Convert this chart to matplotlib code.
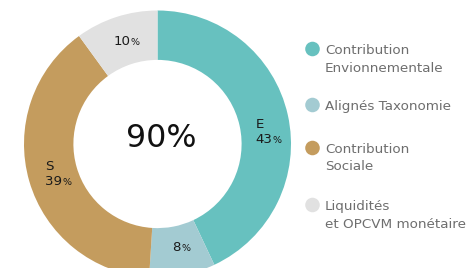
import matplotlib
matplotlib.use("Agg")
import numpy as np
import matplotlib.pyplot as plt
from matplotlib.offsetbox import TextArea, HPacker, VPacker, AnnotationBbox

plt.rcParams['font.family'] = ['DejaVu Sans']

# data
letters = ['E', '', 'S', '']
values = [43, 8, 39, 10]
legend_labels = ['Contribution\nEnvionnementale', 'Alignés Taxonomie',
                 'Contribution\nSociale', 'Liquidités\net OPCVM monétaire']
colors = ['#67c1bf', '#a3cbd2', '#c49c5e', '#e1e1e1']
center_text = '90%'

W, H = 473, 268
fig = plt.figure(figsize=(W / 100, H / 100), dpi=100)

# donut, center (157.5, 144) px from top, outer radius 133.5 px
cx, cy, R = 157.5, 144, 133.5
ax = fig.add_axes([(cx - R) / W, (H - cy - R) / H, 2 * R / W, 2 * R / H])
ax.pie(values, colors=colors, startangle=90, counterclock=False, radius=1,
       wedgeprops=dict(width=0.37, linewidth=0))
ax.set_xlim(-1, 1)
ax.set_ylim(-1, 1)
ax.set_aspect('equal')
ax.axis('off')

ax.text(0.025, 0.04, center_text, ha='center', va='center', fontsize=22.8, color='#111111')

txt = dict(fontsize=9.6, color='#1a1a1a')
pct = dict(fontsize=6.8, color='#1a1a1a')
nudges = [(0.037, -0.09), (0.026, 0.022), (0.04, 0.0), (0.02, -0.01)]
cum = np.cumsum([0] + values)
r_mid = 0.815
for i, v in enumerate(values):
    mid = (cum[i] + v / 2) / sum(values) * 2 * np.pi
    x = r_mid * np.sin(mid) + nudges[i][0]
    y = r_mid * np.cos(mid) + nudges[i][1]
    row = HPacker(children=[TextArea(str(v), textprops=txt), TextArea('%', textprops=pct)],
                  align='baseline', pad=0, sep=0.3)
    if letters[i]:
        box = VPacker(children=[TextArea(letters[i], textprops=txt), row],
                      align='left', pad=0, sep=1.5)
    else:
        box = row
    ax.add_artist(AnnotationBbox(box, (x, y), frameon=False, box_alignment=(0.5, 0.5), pad=0))

# legend
lax = fig.add_axes([0, 0, 1, 1])
lax.set_xlim(0, W)
lax.set_ylim(H, 0)
lax.axis('off')
leg_y = [49, 105, 148, 205]
for i, lab in enumerate(legend_labels):
    lax.scatter(312.5, leg_y[i], s=110, color=colors[i], edgecolor='none')
    for j, line in enumerate(lab.split('\n')):
        lax.text(325, leg_y[i] + 5 + j * 17.5, line, ha='left', va='baseline',
                 fontsize=9.7, color='#6e6e6e')

fig.savefig('out.png', dpi=100)
